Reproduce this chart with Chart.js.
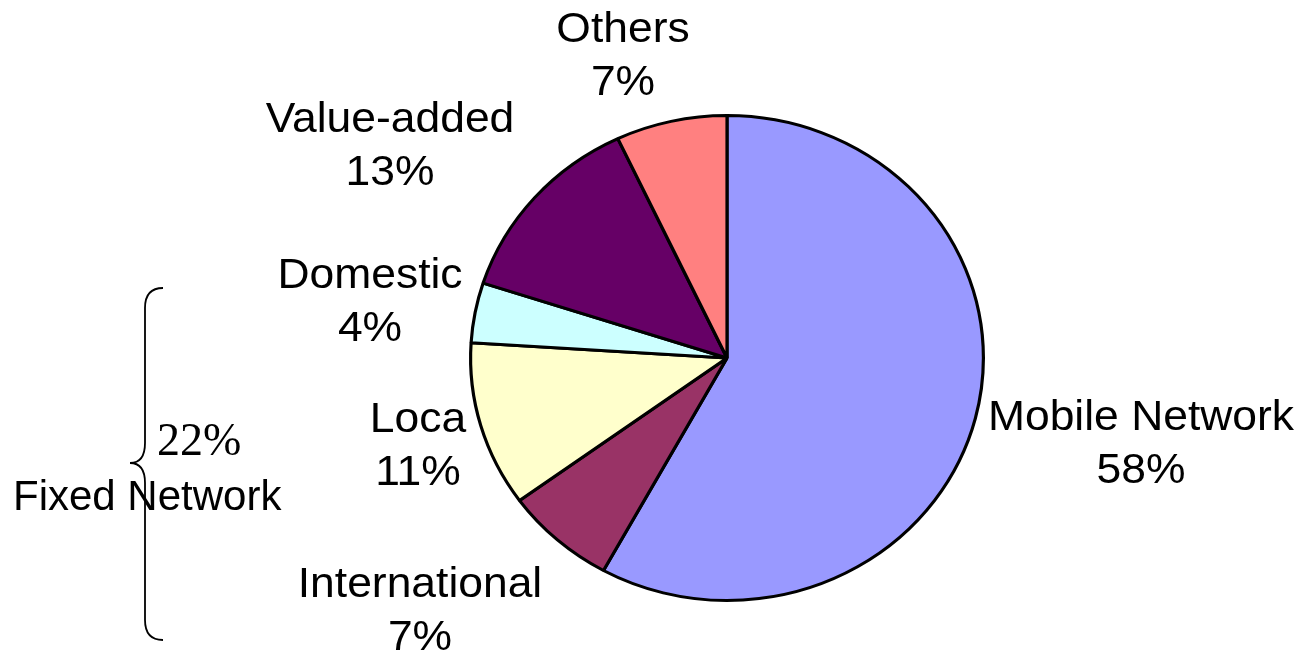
<!DOCTYPE html>
<html>
<head>
<meta charset="utf-8">
<script src="https://cdn.jsdelivr.net/npm/chart.js@4.4.1/dist/chart.umd.min.js"></script>
<style>
html,body{margin:0;padding:0;background:#fff;}
#wrap{width:1298px;height:655px;position:relative;}
</style>
</head>
<body>
<div id="wrap"><canvas id="c" width="1298" height="655"></canvas></div>
<script>
// ---- data ----
const categories = ["Mobile Network", "International", "Loca", "Domestic", "Value-added", "Others"];
const shares = [58, 7, 11, 4, 13, 7];
const fixedGroup = ["International", "Loca", "Domestic"];
const groupLabel = "Fixed Network";

// ---- styles ----
const colors = ["#9999FF", "#993366", "#FFFFCC", "#CCFFFF", "#660066", "#FF8080"];
// label positions: [dx of text centre, dy of first baseline] relative to pie centre
const labelOffsets = [[414, 72], [-307, 239], [-309, 74], [-357, -70], [-337, -226], [-104, -316]];
const LINE_H = 53;
const FONT = '42px "Liberation Sans", Arial, sans-serif';
const X_STRETCH = 258 / 244;

const total = shares.reduce((a, b) => a + b, 0);
const pct = v => Math.round(v / total * 100) + "%";

const ellipsePlugin = {
  id: 'ellipse',
  beforeDatasetsDraw(chart) {
    const arc = chart.getDatasetMeta(0).data[0];
    const ctx = chart.ctx;
    ctx.save();
    ctx.translate(arc.x, arc.y);
    ctx.scale(X_STRETCH, 1);
    ctx.translate(-arc.x, -arc.y);
  },
  afterDatasetsDraw(chart) {
    chart.ctx.restore();
  }
};

function stretchedText(ctx, txt, x, y) {
  ctx.save();
  ctx.translate(x, y);
  ctx.scale(X_STRETCH, 1);
  ctx.fillText(txt, 0, 0);
  ctx.restore();
}

const labelPlugin = {
  id: 'labels',
  afterDraw(chart) {
    const ctx = chart.ctx;
    const meta = chart.getDatasetMeta(0);
    const cx = meta.data[0].x, cy = meta.data[0].y;
    ctx.save();
    ctx.fillStyle = '#000';
    ctx.font = FONT;
    ctx.textAlign = 'center';
    ctx.textBaseline = 'alphabetic';
    categories.forEach((name, i) => {
      const [dx, dy] = labelOffsets[i];
      stretchedText(ctx, name, cx + dx, cy + dy);
      stretchedText(ctx, pct(shares[i]), cx + dx, cy + dy + LINE_H);
    });

    // brace + group annotation
    const groupSum = fixedGroup.reduce((s, n) => s + shares[categories.indexOf(n)], 0);
    ctx.strokeStyle = '#000';
    ctx.lineWidth = 1.8;
    const xr = cx - 564, xm = cx - 582, xt = cx - 597;
    const top = cy - 70, mid = cy + 105, bot = cy + 282;
    ctx.beginPath();
    ctx.moveTo(xr, top);
    ctx.quadraticCurveTo(xm, top, xm, top + 20);
    ctx.lineTo(xm, mid - 20);
    ctx.quadraticCurveTo(xm, mid, xt, mid);
    ctx.quadraticCurveTo(xm, mid, xm, mid + 20);
    ctx.lineTo(xm, bot - 20);
    ctx.quadraticCurveTo(xm, bot, xr, bot);
    ctx.stroke();

    ctx.font = '46px "Liberation Serif", "Times New Roman", serif';
    ctx.textAlign = 'left';
    ctx.fillText(groupSum + "%", cx - 570, cy + 97);
    ctx.font = FONT;
    ctx.fillText(groupLabel, cx - 714, cy + 152);
    ctx.restore();
  }
};

new Chart(document.getElementById('c'), {
  type: 'pie',
  data: {
    labels: categories,
    datasets: [{
      data: shares,
      backgroundColor: colors,
      borderColor: '#000',
      borderWidth: 3,
      hoverOffset: 0
    }]
  },
  options: {
    responsive: false,
    animation: false,
    layout: { padding: { top: 114, bottom: 53, left: 483, right: 327 } },
    plugins: { legend: { display: false }, tooltip: { enabled: false } },
    events: []
  },
  plugins: [ellipsePlugin, labelPlugin]
});
</script>
</body>
</html>
